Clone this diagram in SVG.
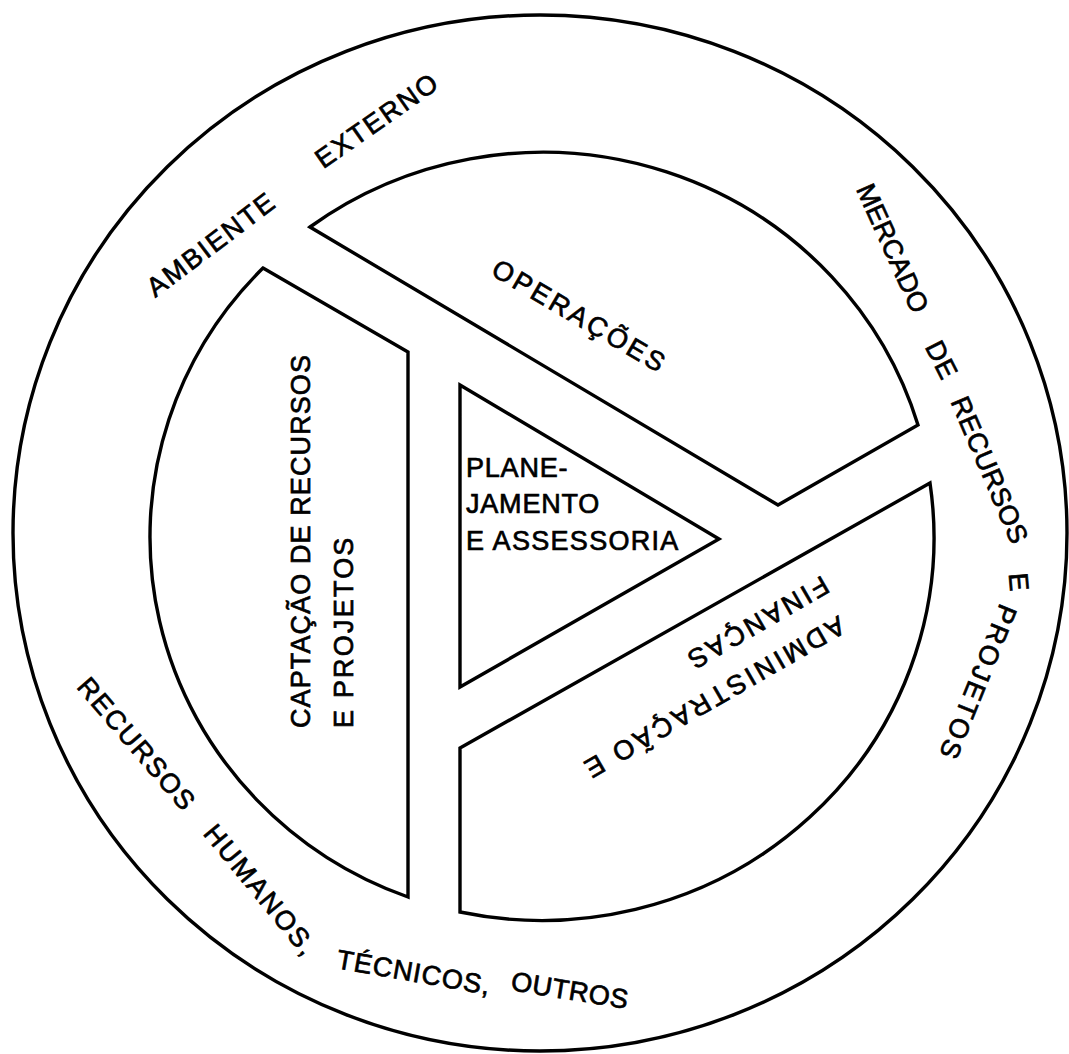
<svg xmlns="http://www.w3.org/2000/svg" width="1069" height="1054" viewBox="0 0 1069 1054">
<style>
.ln{fill:none;stroke:#000;stroke-width:3.4;stroke-linejoin:miter}
.t{font-family:"Liberation Sans","DejaVu Sans",Arial,sans-serif;font-size:27px;fill:#000;stroke:#000;stroke-width:0.7}
.m{text-anchor:middle}
</style>
<rect width="1069" height="1054" fill="#fff"/>
<g id="ambiente-externo">
<ellipse class="ln" cx="540" cy="533" rx="527" ry="518" stroke-width="3.8"/>
<text class="t m" letter-spacing="2" transform="translate(211,244) rotate(-37)" y="9.6">AMBIENTE</text>
<text class="t m" letter-spacing="2" transform="translate(377,120) rotate(-35)" y="9.6">EXTERNO</text>
<text class="t m" letter-spacing="0" transform="translate(893,248) rotate(65.7)" y="9.6">MERCADO</text>
<text class="t m" letter-spacing="1" transform="translate(942,360) rotate(63)" y="9.6">DE</text>
<text class="t m" letter-spacing="0.5" transform="translate(990,470) rotate(66.8)" y="9.6">RECURSOS</text>
<text class="t m" transform="translate(1019,582) rotate(85)" y="9.6">E</text>
<text class="t m" letter-spacing="2.6" transform="translate(978,683) rotate(112)" y="9.6">PROJETOS</text>
<text class="t m" letter-spacing="1.6" transform="translate(137,744) rotate(49.4)" y="9.6">RECURSOS</text>
<text class="t m" letter-spacing="2" transform="translate(261,890) rotate(50.6)" y="9.6">HUMANOS,</text>
<text class="t m" letter-spacing="1" transform="translate(414,972) rotate(10)" y="9.6">TÉCNICOS,</text>
<text class="t m" letter-spacing="0.5" transform="translate(570,990) rotate(9.2)" y="9.6">OUTROS</text>
</g>
<g id="connectors"></g>
<g id="operacoes">
<path class="ln" d="M310,227 A392,383 0 0 1 918,425 L778,505 Z"/>
<text class="t m" letter-spacing="3" transform="translate(580,316) rotate(30.3)" y="9.6">OPERAÇÕES</text>
</g>
<g id="captacao">
<path class="ln" d="M263,268 L408,352 L408,897 A392,383 0 0 1 263,268 Z"/>
<text class="t" letter-spacing="1.1" transform="translate(310,728) rotate(-90)">CAPTAÇÃO DE RECURSOS</text>
<text class="t" letter-spacing="2.2" transform="translate(353,728) rotate(-90)">E PROJETOS</text>
</g>
<g id="administracao">
<path class="ln" d="M930,483 L460,748 L460,912 A392,383 0 0 0 930,483 Z"/>
<g transform="translate(843,623.5) rotate(150)">
<text class="t" letter-spacing="3.2" y="9.6">ADMINISTRAÇÃO E</text>
<text class="t" letter-spacing="3" x="-6" y="52.5">FINANÇAS</text>
</g>
</g>
<g id="planejamento">
<path class="ln" d="M460,385 L719,539 L460,687 Z"/>
<text class="t" letter-spacing="0.8" x="466" y="477">PLANE-</text>
<text class="t" letter-spacing="0.8" x="466" y="513">JAMENTO</text>
<text class="t" letter-spacing="1.3" x="466" y="550">E ASSESSORIA</text>
</g>
</svg>
